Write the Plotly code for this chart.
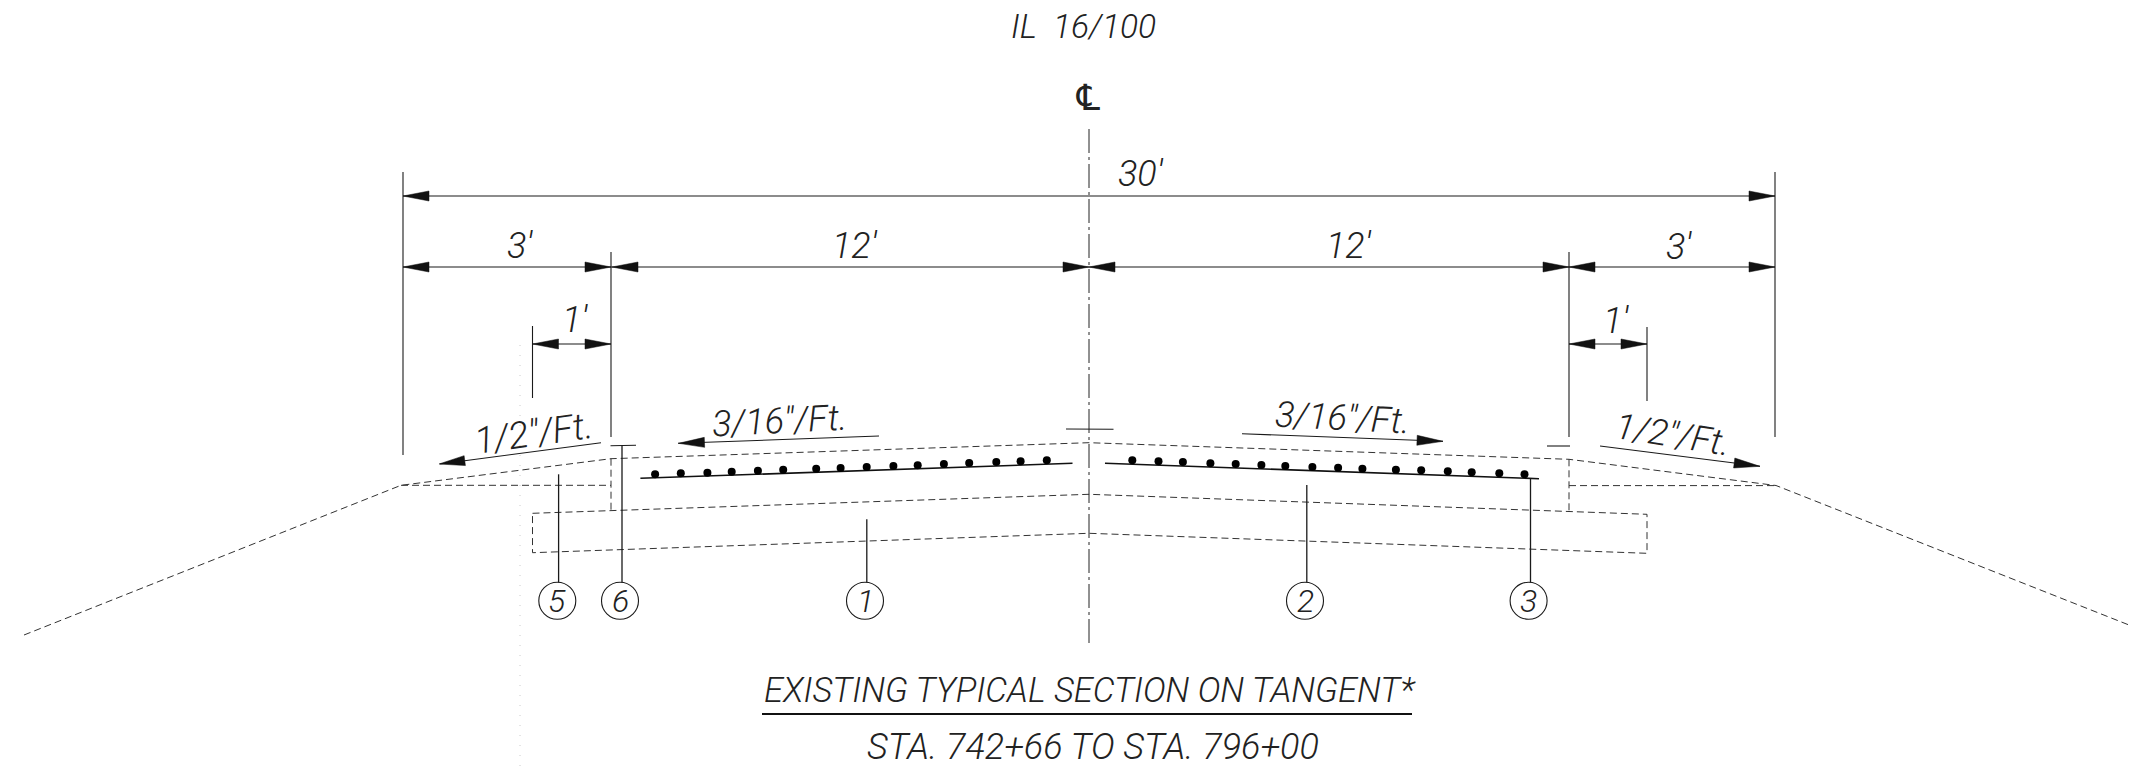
import plotly.graph_objects as go

W, H = 2129, 771
INK = "#1a1a1a"
FONT = "Roboto"

# --- drawing geometry, in sheet units ---
CENTER_X = 1089
OUT_L, OUT_R = 403, 1775
IN_L, IN_R = 611, 1569
ONE_L, ONE_R = 532.5, 1647
DIM_30, DIM_12, DIM_1 = 196, 267, 344

solid_lines = [
    [(OUT_L, DIM_30), (OUT_R, DIM_30)],
    [(OUT_L, DIM_12), (OUT_R, DIM_12)],
    [(ONE_L, DIM_1), (IN_L, DIM_1)],
    [(IN_R, DIM_1), (ONE_R, DIM_1)],
    [(OUT_L, 172), (OUT_L, 455)],
    [(OUT_R, 172), (OUT_R, 437)],
    [(IN_L, 252), (IN_L, 437)],
    [(IN_R, 252), (IN_R, 437)],
    [(ONE_L, 326), (ONE_L, 398)],
    [(ONE_R, 327), (ONE_R, 401)],
    [(601, 442.7), (440, 464)],
    [(879, 436), (678, 443.3)],
    [(1242, 433.7), (1443, 441.3)],
    [(1600, 446), (1760, 466.3)],
    [(1066, 429), (1113.5, 429.3)],
    [(610.5, 445.7), (636, 445.3)],
    [(1547, 446), (1570, 446)],
]
leaders = [
    [(558.6, 474.3), (558.6, 583)],
    [(622, 445.7), (622, 583)],
    [(866.8, 519.3), (866.8, 583)],
    [(1306.8, 485), (1306.8, 583)],
    [(1530.5, 478.7), (1530.5, 583)],
]
steel_lines = [
    [(640.4, 478.3), (1072.5, 463.3)],
    [(1105, 463.3), (1539, 478.7)],
]
underline = [[(762, 714), (1412, 714)]]

dashed_lines = [
    [(24, 635), (401, 485.3), (611, 458.7), (1089, 442.7), (1569, 459.3), (1776, 485.5), (2129, 625)],
    [(401, 485.3), (611, 485.3)],
    [(1569, 485.6), (1776, 485.6)],
    [(611, 458.7), (611, 511)],
    [(1569, 459.3), (1569, 511.7)],
    [(532.5, 513.3), (1089, 494.3), (1647, 514.3), (1647, 553.3), (1089, 533.3), (532.5, 552.7), (532.5, 513.3)],
]
center_line = [[(CENTER_X, 129), (CENTER_X, 645)]]
scan_trace = [[(520, 345), (520, 771)]]

# arrow tips: (x, y, direction x, direction y)
arrow_tips = [
    (OUT_L, DIM_30, -1, 0), (OUT_R, DIM_30, 1, 0),
    (OUT_L, DIM_12, -1, 0), (IN_L, DIM_12, 1, 0),
    (IN_L + 1, DIM_12, -1, 0), (CENTER_X, DIM_12, 1, 0),
    (CENTER_X, DIM_12, -1, 0), (IN_R, DIM_12, 1, 0),
    (IN_R, DIM_12, -1, 0), (OUT_R, DIM_12, 1, 0),
    (ONE_L, DIM_1, -1, 0), (IN_L, DIM_1, 1, 0),
    (IN_R, DIM_1, -1, 0), (ONE_R, DIM_1, 1, 0),
    (439, 464, -0.991, 0.130),
    (678.5, 443.3, -0.999, 0.036),
    (1443, 441.3, 0.999, 0.038),
    (1760, 466.3, 0.992, 0.126),
]

dots_left_x = [655.1, 680.8, 707.4, 731.7, 757.9, 783.2, 816.2, 840.6, 866.7, 893.4, 917.7, 943.9, 969.2, 996.3, 1020.6, 1046.8]
dots_left_y = [474.3, 473.3, 472.7, 471.7, 470.7, 469.7, 468.7, 468.0, 467.0, 466.0, 465.3, 464.0, 463.0, 462.0, 461.3, 460.3]
dots_right_x = [1132.3, 1158.5, 1182.9, 1210.4, 1235.7, 1261.4, 1285.3, 1312.4, 1338.1, 1362.4, 1395.9, 1421.2, 1447.8, 1471.7, 1499.3, 1524.5]
dots_right_y = [460.3, 461.3, 462.0, 463.3, 464.0, 465.0, 466.0, 467.0, 467.7, 468.7, 469.7, 470.3, 471.3, 472.3, 473.3, 474.3]

callout_x = [557.3, 620, 865, 1305, 1528.6]
callout_y = [600.7, 600.7, 600.7, 600.7, 600.7]
callout_labels = ["5", "6", "1", "2", "3"]

# text, x, y, size, angle
labels = [
    ("IL  16/100", 1083, 26, 33.5, 0),
    ("\u2104", 1088, 97, 36, 0),
    ("30\u2032", 1141, 174, 36, 0),
    ("3\u2032", 520, 246, 36, 0),
    ("12\u2032", 855, 246, 36, 0),
    ("12\u2032", 1349, 246, 36, 0),
    ("3\u2032", 1679, 247, 36, 0),
    ("1\u2032", 575, 320, 36, 0),
    ("1\u2032", 1616, 321, 36, 0),
    ("1/2\"/Ft.", 533, 433, 37, -8),
    ("3/16\"/Ft.", 779.5, 421, 36, -3),
    ("3/16\"/Ft.", 1342, 418, 36, 3),
    ("1/2\"/Ft.", 1673, 435, 36, 9),
    ("EXISTING TYPICAL SECTION ON TANGENT*", 1090, 690, 34.5, 0),
    ("STA. 742+66 TO STA. 796+00", 1093, 747, 36, 0),
]


def flatten(paths):
    xs, ys = [], []
    for path in paths:
        for px, py in path:
            xs.append(px)
            ys.append(py)
        xs.append(None)
        ys.append(None)
    return xs, ys


def line_trace(paths, width=1.0, dash="solid", color=INK):
    xs, ys = flatten(paths)
    return go.Scatter(x=xs, y=ys, mode="lines", hoverinfo="skip",
                      line=dict(color=color, width=width, dash=dash))


def arrow_polys(tips, length=26, half=5):
    out = []
    for tx, ty, dx, dy in tips:
        bx, by = tx - dx * length, ty - dy * length
        nx, ny = -dy, dx
        out.append([(tx, ty), (bx + nx * half, by + ny * half), (bx - nx * half, by - ny * half), (tx, ty)])
    return out


fig = go.Figure()
fig.add_trace(line_trace(scan_trace, 1, "1px,9px", "#cccccc"))
fig.add_trace(line_trace(dashed_lines, 1, "7px,4px", "#333333"))
fig.add_trace(line_trace(center_line, 1, "24px,4px,3px,4px", "#222222"))
fig.add_trace(line_trace(solid_lines, 1.1))
fig.add_trace(line_trace(leaders, 1.3))
fig.add_trace(line_trace(steel_lines, 1.6, color="#111111"))
fig.add_trace(line_trace(underline, 1.8, color="#111111"))

ax, ay = flatten(arrow_polys(arrow_tips))
fig.add_trace(go.Scatter(x=ax, y=ay, mode="lines", fill="toself", fillcolor="#111111",
                         hoverinfo="skip", line=dict(color="#111111", width=0.5)))
fig.add_trace(go.Scatter(x=dots_left_x + dots_right_x, y=dots_left_y + dots_right_y, mode="markers",
                         hoverinfo="skip", marker=dict(color="#000000", size=8, symbol="circle")))
fig.add_trace(go.Scatter(x=callout_x, y=callout_y, mode="markers", hoverinfo="skip",
                         marker=dict(size=37, color="rgba(255,255,255,1)", line=dict(color=INK, width=1.1))))

for text, x, y, size, angle in labels:
    fig.add_annotation(x=x, y=y, text=text, showarrow=False, textangle=angle,
                       xanchor="center", yanchor="middle",
                       font=dict(family="DejaVu Sans" if text == "\u2104" else FONT,
                                 size=size, color="#222222", style="italic", weight=300))
for text, x, y in zip(callout_labels, callout_x, callout_y):
    fig.add_annotation(x=x, y=y, text=text, showarrow=False, xanchor="center", yanchor="middle",
                       font=dict(family=FONT, size=32, color="#222222", style="italic", weight=300))

fig.update_layout(
    width=W, height=H, margin=dict(l=0, r=0, t=0, b=0), showlegend=False,
    paper_bgcolor="white", plot_bgcolor="white",
    xaxis=dict(range=[0, W], visible=False, fixedrange=True),
    yaxis=dict(range=[H, 0], visible=False, fixedrange=True),
)
fig.write_html("out.html", post_script="document.body.style.margin='0';document.body.style.overflow='hidden';",
               config={"displayModeBar": False})
